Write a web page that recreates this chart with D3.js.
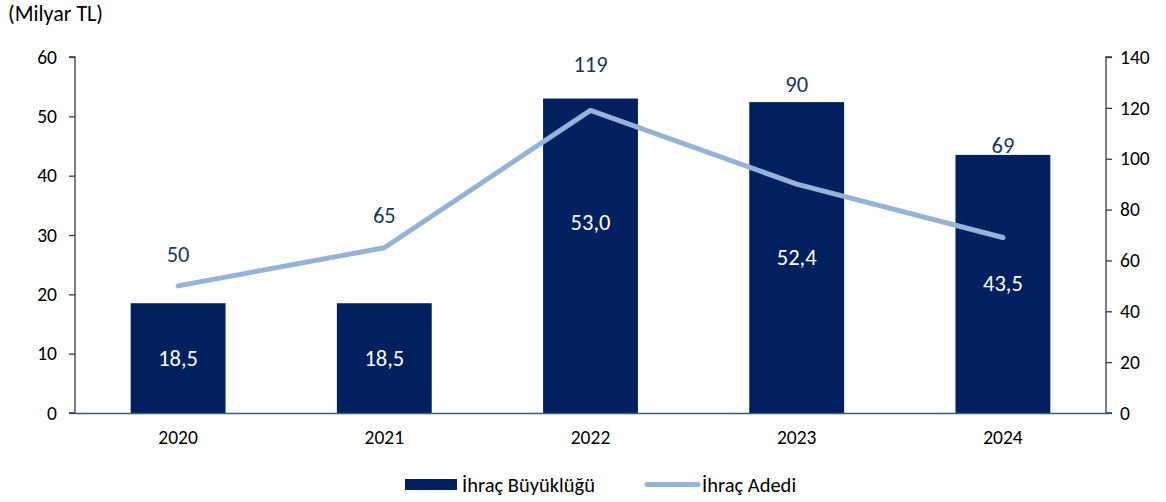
<!DOCTYPE html>
<html><head><meta charset="utf-8">
<script src="https://cdn.jsdelivr.net/npm/d3@7"></script>
<style>
body{margin:0;background:#fff;}
text{font-family:Carlito,Calibri,Lato,"Liberation Sans",Arial,sans-serif;}
</style></head>
<body><svg id="c" width="1166" height="502"></svg>
<script>
const categories = ["2020","2021","2022","2023","2024"];
const buyukluk = [18.5, 18.5, 53.0, 52.4, 43.5];
const adet = [50, 65, 119, 90, 69];
const leftTicks = [0,10,20,30,40,50,60];
const rightTicks = [0,20,40,60,80,100,120,140];
const seriesNames = ["İhraç Büyüklüğü","İhraç Adedi"];
const unitLabel = "(Milyar TL)";
// label layout tweaks (pixels)
const lineLabelDy = [31, 32, 46, 100, 92];
const barLabelDy = [0, 0, -33, 0, 0];

const svg = d3.select("#c");
const L = 75, R = 1106, T = 57, B = 413;
const barColor = "#002060", lineColor = "#95b3d7", axisColor = "#2e3e52";
const tickFs = "19.5px", labelFs = "22.5px";

const x = d3.scaleBand().domain(categories).range([L, R]);
const yL = d3.scaleLinear().domain([0,60]).range([B,T]);
const yR = d3.scaleLinear().domain([0,140]).range([B,T]);
const bw = x.bandwidth()*0.46;

// bars
svg.selectAll("rect.bar").data(categories).join("rect")
  .attr("x", d=>x(d)+x.bandwidth()/2-bw/2)
  .attr("y", (d,i)=>yL(buyukluk[i]))
  .attr("width", bw)
  .attr("height", (d,i)=>B-yL(buyukluk[i]))
  .attr("fill", barColor);

// axes
const fmt = d3.format("d");
const gl = svg.append("g").attr("transform",`translate(${L},0)`)
  .call(d3.axisLeft(yL).tickValues(leftTicks).tickSize(6).tickPadding(12).tickFormat(fmt));
const gr = svg.append("g").attr("transform",`translate(${R},0)`)
  .call(d3.axisRight(yR).tickValues(rightTicks).tickSize(6).tickPadding(8).tickFormat(fmt));
[gl,gr].forEach(g=>{
  g.select(".domain").attr("stroke",axisColor).attr("stroke-width",1.3).attr("d", g===gl?`M-6,${T}H0V${B}H-6`:`M6,${T}H0V${B}H6`);
  g.selectAll(".tick line").attr("stroke",axisColor).attr("stroke-width",1.3);
  g.selectAll(".tick text").attr("fill","#000").style("font-size",tickFs);
});
const gb = svg.append("g").attr("transform",`translate(0,${B})`)
  .call(d3.axisBottom(x).tickSize(0).tickPadding(17));
gb.select(".domain").attr("stroke","#3c5a7c").attr("stroke-width",1.5);
gb.selectAll(".tick text").attr("fill","#000").style("font-size",tickFs);

// line
const line = d3.line().x((d,i)=>x(categories[i])+x.bandwidth()/2).y(d=>yR(d));
svg.append("path").datum(adet).attr("d",line).attr("fill","none")
  .attr("stroke",lineColor).attr("stroke-width",5).attr("stroke-linecap","round").attr("stroke-linejoin","round");

// labels
svg.selectAll("text.ll").data(adet).join("text").attr("class","ll")
  .attr("x",(d,i)=>x(categories[i])+x.bandwidth()/2)
  .attr("y",(d,i)=>yR(d)-lineLabelDy[i])
  .attr("text-anchor","middle").attr("dominant-baseline","central")
  .attr("fill","#17375e").style("font-size",labelFs).text(d=>d);
svg.selectAll("text.bl").data(buyukluk).join("text").attr("class","bl")
  .attr("x",(d,i)=>x(categories[i])+x.bandwidth()/2)
  .attr("y",(d,i)=>(yL(d)+B)/2+barLabelDy[i])
  .attr("text-anchor","middle").attr("dominant-baseline","central")
  .attr("fill","#fff").style("font-size",labelFs).text(d=>d.toFixed(1).replace(".",","));

svg.append("text").attr("x",8).attr("y",21).attr("fill","#000").style("font-size","22px").text(unitLabel);

// legend
const lg = svg.append("g");
lg.append("rect").attr("x",405).attr("y",479).attr("width",52).attr("height",11).attr("fill",barColor);
lg.append("text").attr("x",462).attr("y",485).attr("dominant-baseline","central").style("font-size","20.5px").attr("fill","#000").text(seriesNames[0]);
lg.append("line").attr("x1",647).attr("x2",698).attr("y1",484.5).attr("y2",484.5).attr("stroke",lineColor).attr("stroke-width",5).attr("stroke-linecap","round");
lg.append("text").attr("x",702).attr("y",485).attr("dominant-baseline","central").style("font-size","20.5px").attr("fill","#000").text(seriesNames[1]);
</script></body></html>
